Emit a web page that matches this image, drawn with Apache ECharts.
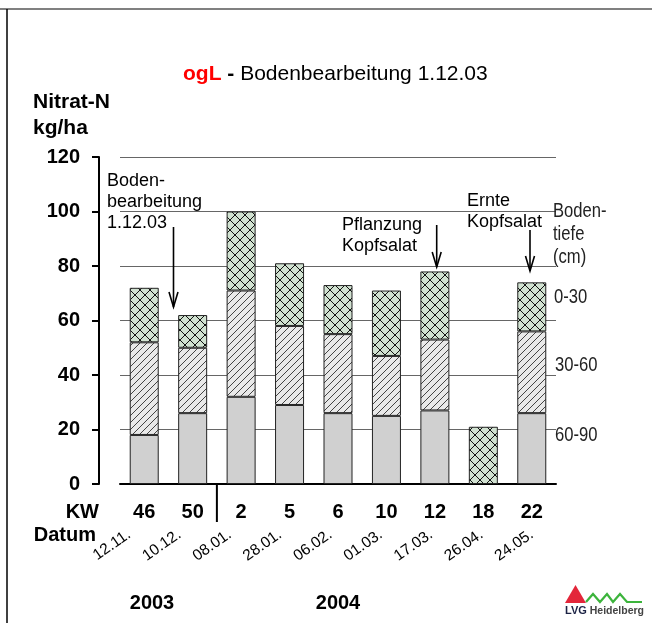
<!DOCTYPE html>
<html><head><meta charset="utf-8">
<script src="https://cdn.jsdelivr.net/npm/echarts@6/dist/echarts.min.js"></script>
<style>html,body{margin:0;padding:0;background:#fff}#c{width:652px;height:623px}</style>
</head><body><div id="c"></div>
<script>
// ---- data ----
const kw = ['46','50','2','5','6','10','12','18','22'];
const datum = ['12.11.','10.12.','08.01.','28.01.','06.02.','01.03.','17.03.','26.04.','24.05.'];
const depth60_90 = [18, 26, 32, 29, 26, 25, 27, '-', 26];
const depth30_60 = [34, 24, 39, 29, 29, 22, 26, '-', 30];
const depth0_30  = [20, 12, 29, 23, 18, 24, 25, 21, 18];
const yMin = 0, yMax = 120, yStep = 20;

const FF = '"Liberation Sans", Arial, sans-serif';

function makePattern(kind){
  const c = document.createElement('canvas');
  const s = kind === 'cross' ? 10 : 7;
  c.width = s; c.height = s;
  const g = c.getContext('2d');
  g.fillStyle = kind === 'cross' ? '#d1e2d1' : '#e9e9e9';
  g.fillRect(0,0,s,s);
  g.strokeStyle = kind === 'cross' ? '#111' : '#444';
  g.lineWidth = 1;
  g.beginPath();
  if (kind === 'cross') {
    g.moveTo(-1,-1); g.lineTo(s+1,s+1);
    g.moveTo(s+1,-1); g.lineTo(-1,s+1);
  } else {
    for (const k of [-s,0,s]) { g.moveTo(k-1, s+1); g.lineTo(k+s+1, -1); }
  }
  g.stroke();
  return c;
}
const crossPat = {image: makePattern('cross'), repeat: 'repeat'};
const hatchPat = {image: makePattern('hatch'), repeat: 'repeat'};

const chart = echarts.init(document.getElementById('c'), null, {renderer: 'canvas'});

function txt(id, x, y, text, opts){
  return Object.assign({type:'text', id, x, y, z: 10, style: Object.assign({
    text, fill:'#000', fontFamily: FF, fontSize: 18, align:'left', verticalAlign:'middle'
  }, opts && opts.style || {})}, opts && opts.el || {});
}
function ln(id, x1,y1,x2,y2, stroke, w){
  return {type:'line', id, z: 10, shape:{x1,y1,x2,y2}, style:{stroke, lineWidth:w}};
}
function arrow(id, x, yTop, yTip){
  return [
    ln(id+'s', x, yTop, x, yTip, '#000', 1.6),
    {type:'polyline', id:id+'h', z:10, shape:{points:[[x-4.5, yTip-15],[x, yTip],[x+4.5, yTip-15]]}, style:{stroke:'#000', lineWidth:1.6, fill:null}}
  ];
}

const graphics = [
  ln('frameTop', 0, 9, 652, 9, '#808080', 2),
  ln('frameLeft', 7, 9, 7, 623, '#000', 1.5),
  txt('nitrat', 33, 102, 'Nitrat-N', {style:{fontSize:21, fontWeight:'bold'}}),
  txt('kgha', 33, 128, 'kg/ha', {style:{fontSize:21, fontWeight:'bold'}}),
  txt('ann1', 107, 171, 'Boden-\nbearbeitung\n1.12.03', {style:{fontSize:18, lineHeight:21, verticalAlign:'top'}}),
  ...arrow('arr1', 173.5, 227, 307),
  txt('ann2', 342, 215, 'Pflanzung\nKopfsalat', {style:{fontSize:18, lineHeight:21, verticalAlign:'top'}}),
  ...arrow('arr2', 436.7, 225, 267),
  txt('ann3', 467, 191, 'Ernte\nKopfsalat', {style:{fontSize:18, lineHeight:21, verticalAlign:'top'}}),
  ...arrow('arr3', 530, 230, 271),
  txt('bt', 553, 200, 'Boden-\ntiefe\n(cm)', {style:{fontSize:20, lineHeight:23, verticalAlign:'top', fill:'#222'}, el:{scaleX:0.83}}),
  txt('d1', 554, 297, '0-30', {style:{fontSize:20, fill:'#222'}, el:{scaleX:0.83}}),
  txt('d2', 555, 365, '30-60', {style:{fontSize:20, fill:'#222'}, el:{scaleX:0.83}}),
  txt('d3', 555, 435, '60-90', {style:{fontSize:20, fill:'#222'}, el:{scaleX:0.83}}),
  txt('kwT', 99, 512, 'KW', {style:{fontSize:20, fontWeight:'bold', align:'right'}}),
  txt('datT', 96, 535, 'Datum', {style:{fontSize:20, fontWeight:'bold', align:'right'}}),
  txt('y03', 152, 603, '2003', {style:{fontSize:20, fontWeight:'bold', align:'center'}}),
  txt('y04', 338, 603, '2004', {style:{fontSize:20, fontWeight:'bold', align:'center'}}),
  {type:'polygon', id:'logoTri', z:10, shape:{points:[[565,603],[575.5,585],[586,603]]}, style:{fill:'#e3263a'}},
  {type:'polyline', id:'logoLine', z:10, shape:{points:[[586,602],[593,594],[600,602],[607,594],[613,602],[620,594],[627,602],[642,602]]}, style:{stroke:'#3cb43c', lineWidth:2.2, fill:null}},
  txt('logoTxt', 565, 611, '{a|LVG}{b| Heidelberg}', {style:{rich:{a:{fontSize:11, fontWeight:'bold', fill:'#1c2345', fontFamily:FF}, b:{fontSize:10.5, fontWeight:'bold', fill:'#444', fontFamily:FF}}}})
];

const barBase = {type:'bar', stack:'tot', barWidth:29, xAxisIndex:0, yAxisIndex:0, emphasis:{disabled:true}};

const option = {
  animation: false,
  backgroundColor: '#fff',
  title: {
    text: '{r|ogL}{k| - }{n|Bodenbearbeitung 1.12.03}',
    left: 178, top: 59,
    textStyle: {
      fontFamily: FF, fontSize: 21,
      rich: {
        r: {color:'#ff0000', fontWeight:'bold', fontSize:21, fontFamily:FF},
        k: {color:'#000', fontWeight:'bold', fontSize:21, fontFamily:FF},
        n: {color:'#000', fontWeight:'normal', fontSize:21, fontFamily:FF}
      }
    }
  },
  grid: [
    {left:120, right:96, top:157, bottom:139, containLabel:false},
    {left:104, right:95, top:157, bottom:139, containLabel:false}
  ],
  xAxis: [
    {type:'category', gridIndex:0, data: kw,
      axisLine:{show:true, lineStyle:{color:'#000', width:2}},
      axisTick:{show:false},
      axisLabel:{interval:0, fontFamily:FF, fontSize:20, fontWeight:'bold', color:'#000', margin:18}},
    {type:'category', gridIndex:1, data: datum,
      axisLine:{show:false}, axisTick:{show:false}, splitLine:{show:false},
      axisLabel:{interval:0, rotate:35, fontFamily:FF, fontSize:15.5, color:'#000', margin:49}}
  ],
  yAxis: [
    {type:'value', gridIndex:0, min:yMin, max:yMax, interval:yStep, offset:21,
      axisLine:{show:true, lineStyle:{color:'#000', width:2}},
      axisTick:{show:true, inside:false, length:7, lineStyle:{color:'#000', width:2}},
      axisLabel:{fontFamily:FF, fontSize:20, fontWeight:'bold', color:'#000', margin:19},
      splitLine:{show:true, lineStyle:{color:'#666', width:1}}},
    {type:'value', gridIndex:1, min:yMin, max:yMax, show:false}
  ],
  series: [
    Object.assign({}, barBase, {name:'60-90', data: depth60_90,
      itemStyle:{color:'#d0d0d0', borderColor:'#222', borderWidth:1}}),
    Object.assign({}, barBase, {name:'30-60', data: depth30_60,
      itemStyle:{color: hatchPat, borderColor:'#222', borderWidth:1}}),
    Object.assign({}, barBase, {name:'0-30', data: depth0_30,
      itemStyle:{color: crossPat, borderColor:'#222', borderWidth:1}})
  ],
  graphic: graphics
};

chart.setOption(option);

// divider between 2003 and 2004 at the category boundary, located through the axis scale
const pA = chart.convertToPixel({xAxisIndex:0}, kw[1]);
const pB = chart.convertToPixel({xAxisIndex:0}, kw[2]);
const y0 = chart.convertToPixel({yAxisIndex:0}, yMin);
const xDiv = (pA + pB) / 2;
chart.setOption({graphic: graphics.concat([ln('divider', xDiv, y0, xDiv, y0 + 38, '#000', 2)])}, {replaceMerge:['graphic']});
</script>
</body></html>
